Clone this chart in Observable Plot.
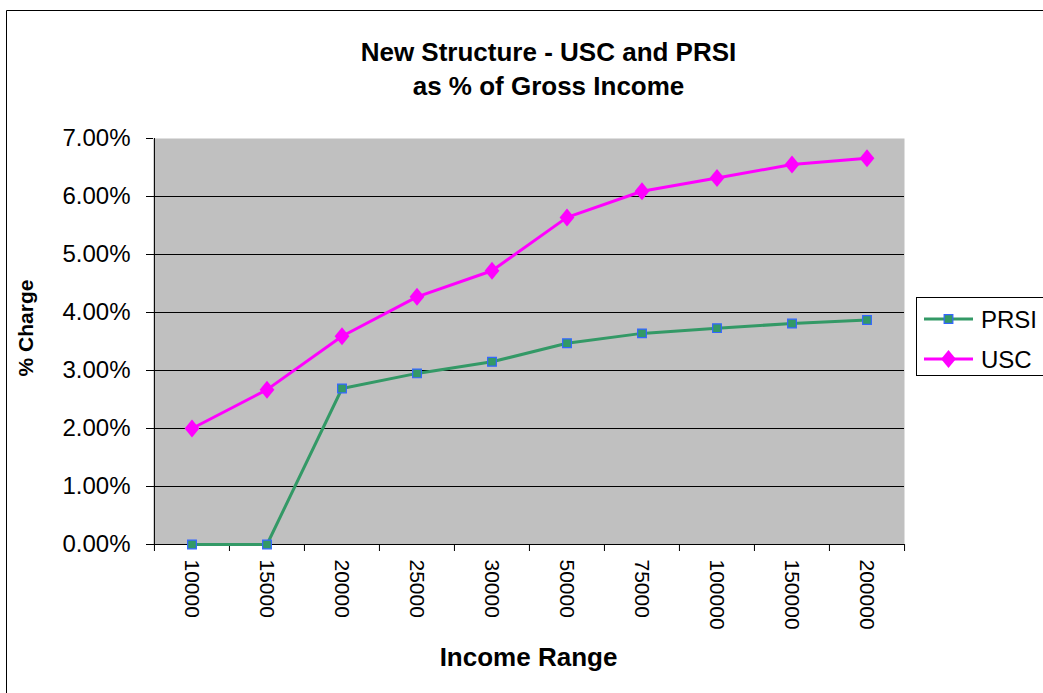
<!DOCTYPE html>
<html>
<head>
<meta charset="utf-8">
<script src="https://cdn.jsdelivr.net/npm/d3@7"></script>
<script src="https://cdn.jsdelivr.net/npm/@observablehq/plot@0.6"></script>
<style>
  html, body { margin: 0; padding: 0; background: #fff; }
  #chart svg { display: block; }
</style>
</head>
<body>
<div id="chart"></div>
<script>
// ---- Data ----
const categories = ["10000", "15000", "20000", "25000", "30000", "50000", "75000", "100000", "150000", "200000"];
const prsiValues = [0.00, 0.00, 2.69, 2.95, 3.15, 3.47, 3.64, 3.73, 3.81, 3.87];
const uscValues = [2.00, 2.67, 3.59, 4.27, 4.72, 5.64, 6.09, 6.32, 6.55, 6.66];
const yTicks = [0, 1, 2, 3, 4, 5, 6, 7];
const seriesNames = ["PRSI", "USC"];
const titleLines = ["New Structure - USC and PRSI", "as % of Gross Income"];
const xTitle = "Income Range";
const yTitle = "% Charge";

// ---- Build tables ----
const prsiData = categories.map((c, i) => ({series: seriesNames[0], income: c, value: prsiValues[i]}));
const uscData = categories.map((c, i) => ({series: seriesNames[1], income: c, value: uscValues[i]}));

const W = 1043, H = 693, mL = 153, mR = 139, mT = 138, mB = 149;
const bw = (W - mL - mR) / categories.length;
const FONT = "'Liberation Sans', Arial, Helvetica, sans-serif";
const GREEN = "#339966", BLUE = "#3366ff", MAGENTA = "#ff00ff";

const diamond = {
  draw(ctx, size) {
    const r = Math.sqrt(size / Math.PI);
    ctx.moveTo(0, -r);
    ctx.lineTo(0.82 * r, 0);
    ctx.lineTo(0, r);
    ctx.lineTo(-0.82 * r, 0);
    ctx.closePath();
  }
};

const plot = Plot.plot({
  width: W,
  height: H,
  marginLeft: mL,
  marginRight: mR,
  marginTop: mT,
  marginBottom: mB,
  style: {fontFamily: FONT, background: "#fff", color: "#000"},
  x: {type: "band", domain: categories, padding: 0, label: null},
  y: {domain: [0, 7], label: null},
  marks: [
    Plot.frame({fill: "#c0c0c0", stroke: "none"}),
    Plot.ruleY(yTicks.filter(v => v > 0 && v < 7), {stroke: "#000", strokeWidth: 1}),
    Plot.ruleY([0], {stroke: "#000", strokeWidth: 1}),
    Plot.ruleX([categories[0]], {dx: -bw / 2, stroke: "#000", strokeWidth: 1}),
    Plot.ruleX(categories, {dx: -bw / 2, y1: 0, y2: 0, insetTop: 7, stroke: "#000"}),
    Plot.ruleX([categories[categories.length - 1]], {dx: bw / 2, y1: 0, y2: 0, insetTop: 7, stroke: "#000"}),
    Plot.axisY({ticks: yTicks, tickSize: 7, tickPadding: 16, tickFormat: d => d.toFixed(2) + "%", fontSize: 24, label: null}),
    Plot.axisX({tickSize: 0, tickPadding: 15, tickRotate: 90, fontSize: 21, label: null}),
    Plot.line(prsiData, {x: "income", y: "value", stroke: GREEN, strokeWidth: 3}),
    Plot.dot(prsiData, {x: "income", y: "value", symbol: "square", r: 4.9, fill: GREEN, stroke: BLUE, strokeWidth: 1.2}),
    Plot.line(uscData, {x: "income", y: "value", stroke: MAGENTA, strokeWidth: 3}),
    Plot.dot(uscData, {x: "income", y: "value", symbol: diamond, r: 9, fill: MAGENTA, stroke: "none"})
  ]
});

const svg = d3.select(plot);

// Outer chart border (left and top edges visible)
svg.append("path")
  .attr("d", `M6.5,${H} V10.5 H${W}`)
  .attr("fill", "none").attr("stroke", "#000").attr("stroke-width", 1);

// Title
const title = svg.append("text")
  .attr("text-anchor", "middle")
  .attr("font-family", FONT).attr("font-weight", "bold").attr("font-size", 26).attr("fill", "#000");
titleLines.forEach((t, i) => {
  title.append("tspan").attr("x", 548.5).attr("y", 61 + i * 33.5).text(t);
});

// Axis titles
svg.append("text")
  .attr("x", 528.5).attr("y", 666)
  .attr("text-anchor", "middle")
  .attr("font-family", FONT).attr("font-weight", "bold").attr("font-size", 26).attr("fill", "#000")
  .text(xTitle);

svg.append("text")
  .attr("transform", "translate(33,328) rotate(-90)")
  .attr("text-anchor", "middle")
  .attr("font-family", FONT).attr("font-weight", "bold").attr("font-size", 21).attr("fill", "#000")
  .text(yTitle);

// Legend
const lg = svg.append("g").attr("text-anchor", "start");
lg.append("rect")
  .attr("x", 916.5).attr("y", 297.5).attr("width", 140).attr("height", 78)
  .attr("fill", "#fff").attr("stroke", "#000").attr("stroke-width", 1);
const legendItems = [
  {name: seriesNames[0], color: GREEN, y: 319, sym: d3.symbol(d3.symbolSquare, Math.PI * 4.9 * 4.9)(), fill: GREEN, stroke: BLUE},
  {name: seriesNames[1], color: MAGENTA, y: 359, sym: d3.symbol(diamond, Math.PI * 9 * 9)(), fill: MAGENTA, stroke: "none"}
];
legendItems.forEach(it => {
  lg.append("line")
    .attr("x1", 924).attr("x2", 973).attr("y1", it.y).attr("y2", it.y)
    .attr("stroke", it.color).attr("stroke-width", 3);
  lg.append("path")
    .attr("d", it.sym)
    .attr("transform", `translate(948.5,${it.y})`)
    .attr("fill", it.fill).attr("stroke", it.stroke).attr("stroke-width", 1.2);
  lg.append("text")
    .attr("x", 981).attr("y", it.y + 8.5)
    .attr("text-anchor", "start")
    .attr("font-family", FONT).attr("font-size", 24).attr("fill", "#000")
    .text(it.name);
});

document.getElementById("chart").appendChild(plot);
</script>
</body>
</html>
